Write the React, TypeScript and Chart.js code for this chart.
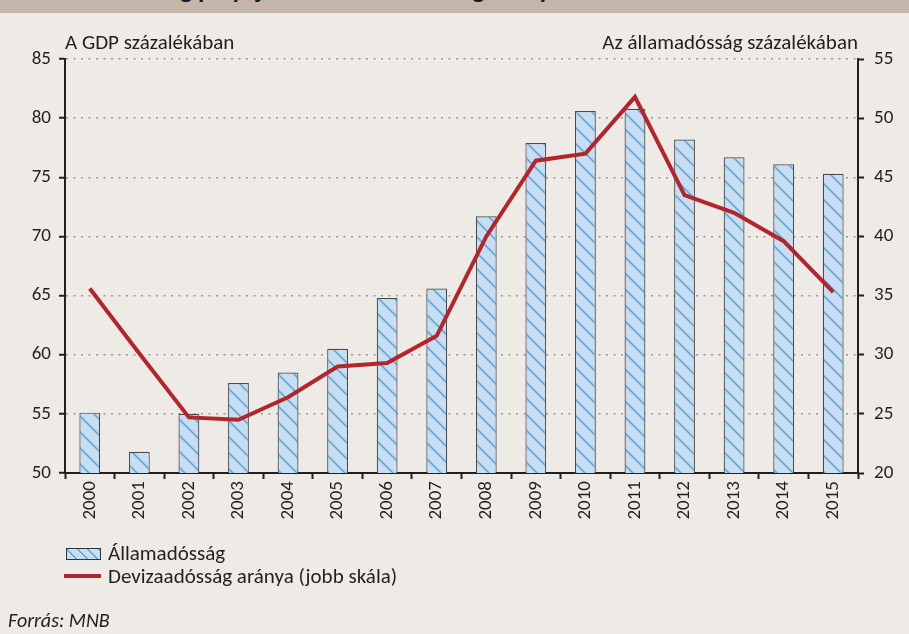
import React, { useEffect, useRef } from "react";
import { Chart, registerables } from "chart.js";

Chart.register(...registerables);

const years = ["2000","2001","2002","2003","2004","2005","2006","2007","2008","2009","2010","2011","2012","2013","2014","2015"];
const allamadossag = [55.1, 51.8, 55.0, 57.6, 58.5, 60.5, 64.8, 65.6, 71.7, 77.9, 80.6, 80.8, 78.2, 76.7, 76.1, 75.3];
const devizaArany = [35.6, 30.1, 24.7, 24.5, 26.4, 29.0, 29.3, 31.6, 40.0, 46.4, 47.0, 51.8, 43.5, 42.0, 39.6, 35.3];
const leftTitle = "A GDP százalékában";
const rightTitle = "Az államadósság százalékában";
const barLabel = "Államadósság";
const lineLabel = "Devizaadósság aránya (jobb skála)";
const chartTitle = "Az államadósság pályája és a devizaadósság aránya";
const source = "Forrás: MNB";

const FONT = "Carlito, Lato, 'Open Sans', sans-serif";
const BG = "#eeeae5";
const DARK = "#231f20";
const RED = "#b3252b";

function makePattern(): CanvasPattern | string {
  const c = document.createElement("canvas");
  const s = 16;
  c.width = s;
  c.height = s;
  const ctx = c.getContext("2d");
  if (!ctx) return "#c5dcf0";
  ctx.fillStyle = "#c7ddf1";
  ctx.fillRect(0, 0, s, s);
  ctx.strokeStyle = "#62a8db";
  ctx.lineWidth = 1.6;
  ctx.beginPath();
  ctx.moveTo(-2, -2);
  ctx.lineTo(s + 2, s + 2);
  ctx.moveTo(-2, s - 2);
  ctx.lineTo(2, s + 2);
  ctx.moveTo(s - 2, -2);
  ctx.lineTo(s + 2, 2);
  ctx.stroke();
  const p = ctx.createPattern(c, "repeat");
  return p || "#c5dcf0";
}

export default function App() {
  const ref = useRef<HTMLCanvasElement | null>(null);

  useEffect(() => {
    document.body.style.margin = "0";
    document.body.style.background = BG;
    if (!ref.current) return;
    const pattern = makePattern();
    const chart = new Chart(ref.current, {
      type: "bar",
      data: {
        labels: years,
        datasets: [
          {
            type: "line",
            label: lineLabel,
            data: devizaArany,
            yAxisID: "y1",
            borderColor: RED,
            backgroundColor: RED,
            borderWidth: 4,
            pointRadius: 0,
            tension: 0,
            borderJoinStyle: "miter",
            order: 0,
          } as any,
          {
            type: "bar",
            label: barLabel,
            data: allamadossag,
            yAxisID: "y",
            backgroundColor: pattern as any,
            borderColor: "#4a4a4a",
            borderWidth: 1.2,
            categoryPercentage: 1,
            barPercentage: 0.42,
            order: 1,
          } as any,
        ],
      },
      options: {
        responsive: false,
        animation: false,
        maintainAspectRatio: false,
        layout: { padding: { top: 59, left: 0, right: 0, bottom: 0 } },
        plugins: { legend: { display: false }, tooltip: { enabled: false }, title: { display: false } },
        scales: {
          x: {
            afterFit: (s: any) => { s.height = 161; },
            grid: { drawOnChartArea: false, drawTicks: true, tickLength: 6, tickColor: DARK, tickWidth: 2, offset: true },
            border: { display: true, color: DARK, width: 2 },
            ticks: {
              minRotation: 90,
              maxRotation: 90,
              padding: 2,
              color: DARK,
              font: { family: FONT, size: 19 },
              autoSkip: false,
            },
          },
          y: {
            position: "left",
            min: 50,
            max: 85,
            afterFit: (s: any) => { s.width = 65; },
            grid: { color: "#9a9896", lineWidth: 1.5, drawTicks: true, tickLength: 6, tickColor: DARK, tickWidth: 2 },
            border: { display: true, color: DARK, width: 2, dash: [2, 5.5] },
            ticks: { stepSize: 5, padding: 8, color: DARK, font: { family: FONT, size: 19 } },
          },
          y1: {
            position: "right",
            min: 20,
            max: 55,
            afterFit: (s: any) => { s.width = 51; },
            grid: { drawOnChartArea: false, drawTicks: true, tickLength: 6, tickColor: DARK, tickWidth: 2 },
            border: { display: true, color: DARK, width: 2 },
            ticks: { stepSize: 5, padding: 10, color: DARK, font: { family: FONT, size: 19 } },
          },
        },
      },
    });
    return () => chart.destroy();
  }, []);

  const txt: React.CSSProperties = { position: "absolute", fontFamily: FONT, fontSize: 21, color: DARK, whiteSpace: "nowrap", lineHeight: "24px" };

  return (
    <div style={{ position: "absolute", left: 0, top: 0, width: 909, height: 634, background: BG, overflow: "hidden" }}>
      <div style={{ position: "absolute", left: 0, top: 0, width: 909, height: 13, background: "#c4b5a8", overflow: "hidden" }}>
        <div style={{ position: "absolute", left: 14, top: -24, fontFamily: FONT, fontWeight: 700, fontSize: 26, lineHeight: "26px", color: "#1a1a1a", whiteSpace: "nowrap" }}>
          {chartTitle}
        </div>
      </div>
      <canvas ref={ref} width={909} height={634} style={{ position: "absolute", left: 0, top: 0, width: 909, height: 634 }} />
      <div style={{ ...txt, left: 65, top: 30 }}>{leftTitle}</div>
      <div style={{ ...txt, right: 909 - 858, top: 30 }}>{rightTitle}</div>
      <div style={{ position: "absolute", left: 66, top: 548, width: 33, height: 10, border: "1px solid #333", background: "repeating-linear-gradient(45deg, #c7ddf1 0px, #c7ddf1 6px, #62a8db 6px, #62a8db 7.5px)" }} />
      <div style={{ ...txt, left: 108, top: 541 }}>{barLabel}</div>
      <div style={{ position: "absolute", left: 64, top: 574, width: 37, height: 4, background: RED }} />
      <div style={{ ...txt, left: 108, top: 564 }}>{lineLabel}</div>
      <div style={{ ...txt, left: 8, top: 608, fontSize: 20, fontStyle: "italic" }}>{source}</div>
    </div>
  );
}
